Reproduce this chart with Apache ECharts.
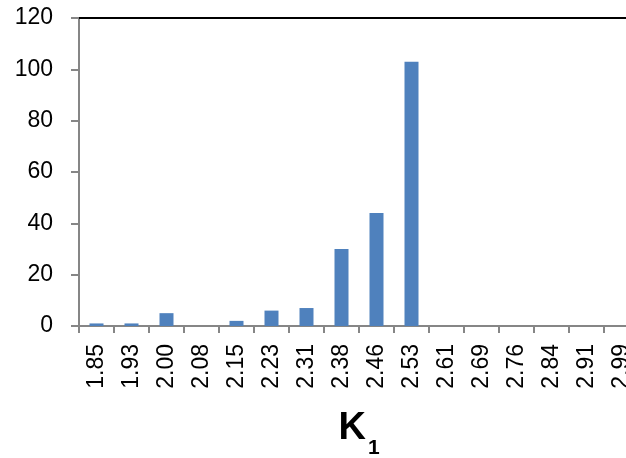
<!DOCTYPE html>
<html>
<head>
<meta charset="utf-8">
<script src="https://cdn.jsdelivr.net/npm/echarts@6/dist/echarts.min.js"></script>
<style>html,body{margin:0;padding:0;background:#fff}#c{width:626px;height:458px}</style>
</head>
<body>
<div id="c"></div>
<script>
const categories = ['1.85','1.93','2.00','2.08','2.15','2.23','2.31','2.38','2.46','2.53','2.61','2.69','2.76','2.84','2.91','2.99'];
const counts = [1, 1, 5, 0, 2, 6, 7, 30, 44, 103, 0, 0, 0, 0, 0, 0];
const yTicks = [0, 20, 40, 60, 80, 100, 120];

const chart = echarts.init(document.getElementById('c'), null, {renderer: 'canvas'});
const font = 'Liberation Sans, Arial, sans-serif';
chart.setOption({
  animation: false,
  backgroundColor: '#ffffff',
  grid: {left: 79, top: 18, width: 560, bottom: 132, containLabel: false, outerBoundsMode: 'none'},
  xAxis: [{
    type: 'category',
    data: categories,
    position: 'bottom',
    axisLine: {show: true, lineStyle: {color: '#868686', width: 2}},
    axisTick: {show: true, alignWithLabel: false, length: 7, lineStyle: {color: '#868686', width: 2}},
    axisLabel: {rotate: 90, margin: 18, fontSize: 23, color: '#000', fontFamily: font, interval: 0},
    name: '{k|K}{s|1}',
    nameLocation: 'middle',
    nameGap: 73,
    nameTextStyle: {
      rich: {
        k: {fontSize: 38, fontWeight: 'bold', color: '#000', fontFamily: font},
        s: {fontSize: 21, fontWeight: 'bold', color: '#000', fontFamily: font, padding: [39, 0, 0, 2]}
      }
    }
  }, {
    type: 'category',
    data: categories,
    position: 'top',
    axisLine: {show: true, lineStyle: {color: '#000', width: 2}},
    axisTick: {show: false},
    axisLabel: {show: false}
  }],
  yAxis: {
    type: 'value',
    min: yTicks[0],
    max: yTicks[yTicks.length - 1],
    interval: yTicks[1] - yTicks[0],
    axisLine: {show: true, lineStyle: {color: '#868686', width: 2}},
    axisTick: {show: true, length: 8, lineStyle: {color: '#868686', width: 2}},
    axisLabel: {margin: 26, fontSize: 23, color: '#000', fontFamily: font},
    splitLine: {show: false}
  },
  series: [{
    type: 'bar',
    data: counts,
    barWidth: 14,
    itemStyle: {color: '#4F81BD'}
  }]
});
</script>
</body>
</html>
